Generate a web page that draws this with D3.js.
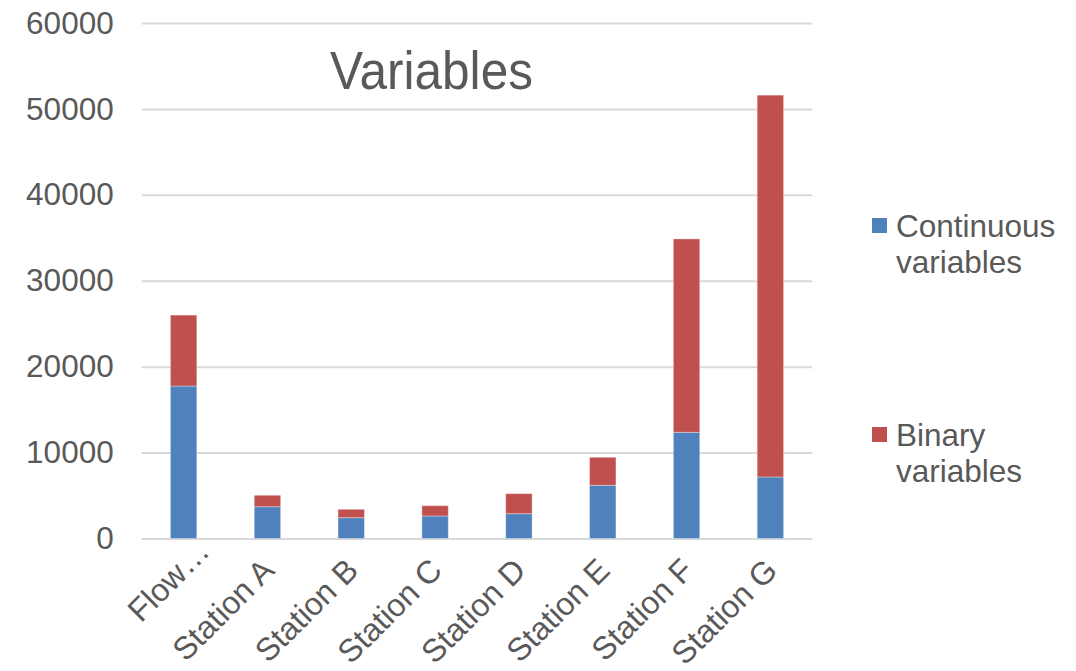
<!DOCTYPE html>
<html>
<head>
<meta charset="utf-8">
<script src="https://cdn.jsdelivr.net/npm/d3@7"></script>
<style>
  html, body { margin: 0; padding: 0; background: #ffffff; }
  svg text { font-family: "Liberation Sans", Arial, Helvetica, sans-serif; fill: #595959; }
</style>
</head>
<body>
<svg id="chart" width="1076" height="671"></svg>
<script>
// ---- data ----
const categories = ["Flow…", "Station A", "Station B", "Station C", "Station D", "Station E", "Station F", "Station G"];
const continuousValues = [17750, 3700, 2420, 2620, 2890, 6190, 12360, 7160];
const binaryValues = [8250, 1330, 980, 1200, 2330, 3260, 22510, 44440];
const seriesNames = ["Continuous variables", "Binary variables"];
const yTicks = [0, 10000, 20000, 30000, 40000, 50000, 60000];
const chartTitle = "Variables";

// ---- layout ----
const W = 1076, H = 671;
const plot = { left: 141.7, right: 812.3, top: 23, bottom: 538.5 };
const colors = ["#4F81BD", "#C0504D"];

const svg = d3.select("#chart");

const x = d3.scaleBand()
  .domain(categories)
  .range([plot.left, plot.right])
  .paddingInner(0.685)
  .paddingOuter(0.3425);

const y = d3.scaleLinear()
  .domain([0, 60000])
  .range([plot.bottom, plot.top]);

// gridlines
const grid = d3.axisLeft(y).tickValues(yTicks).tickSize(-(plot.right - plot.left)).tickFormat("");
svg.append("g")
  .attr("transform", `translate(${plot.left},0)`)
  .call(grid)
  .call(g => g.select(".domain").remove())
  .call(g => g.selectAll("line").attr("stroke", "#d9d9d9").attr("stroke-width", 2));

// y axis labels
svg.append("g")
  .attr("transform", `translate(${plot.left},0)`)
  .call(d3.axisLeft(y).tickValues(yTicks).tickSize(0).tickPadding(28).tickFormat(d3.format("d")))
  .call(g => g.select(".domain").remove())
  .call(g => g.selectAll("text")
    .attr("font-size", 31.5)
    .style("font-family", "'Liberation Sans', Arial, sans-serif")
    .attr("fill", "#595959"));

// stacked data
const rows = categories.map((c, i) => ({ cat: c, s0: continuousValues[i], s1: binaryValues[i] }));
const stack = d3.stack().keys(["s0", "s1"]);
const stacked = stack(rows);

svg.append("g")
  .selectAll("g")
  .data(stacked)
  .join("g")
  .attr("fill", (d, i) => colors[i])
  .selectAll("rect")
  .data(d => d)
  .join("rect")
  .attr("x", d => x(d.data.cat))
  .attr("width", x.bandwidth())
  .attr("y", d => y(d[1]))
  .attr("height", d => y(d[0]) - y(d[1]))
  .attr("stroke", "#ffffff")
  .attr("stroke-opacity", 0.35)
  .attr("stroke-width", 1);

// x axis labels (rotated)
const xAxis = d3.axisBottom(x).tickSize(0).tickFormat(d => d);
svg.append("g")
  .attr("transform", `translate(0,${plot.bottom})`)
  .call(xAxis)
  .call(g => g.select(".domain").remove())
  .call(g => g.selectAll(".tick text")
    .attr("font-size", 32)
    .style("font-family", "'Liberation Sans', Arial, sans-serif")
    .attr("fill", "#595959")
    .attr("text-anchor", "end")
    .attr("dominant-baseline", "central")
    .attr("y", 0)
    .attr("dy", null)
    .attr("dx", (d, i) => i === 0 ? 27 : 0)
    .attr("transform", "translate(1,26) rotate(-45)"));

// title
svg.append("text")
  .attr("x", 431.5)
  .attr("y", 89)
  .attr("text-anchor", "middle")
  .attr("font-size", 53)
  .attr("textLength", 203)
  .attr("lengthAdjust", "spacingAndGlyphs")
  .text(chartTitle);

// legend
const legendY = [225.5, 434.5];
const legend = svg.append("g");
seriesNames.forEach((name, i) => {
  const g = legend.append("g").attr("transform", `translate(872,${legendY[i]})`);
  g.append("rect").attr("x", 0).attr("y", -7.5).attr("width", 15).attr("height", 15).attr("fill", colors[i]);
  const words = name.split(" ");
  const t = g.append("text").attr("x", 24).attr("y", 11).attr("font-size", 31.5);
  words.forEach((w, j) => {
    t.append("tspan").attr("x", 24).attr("dy", j === 0 ? 0 : 36).text(w);
  });
});
</script>
</body>
</html>
